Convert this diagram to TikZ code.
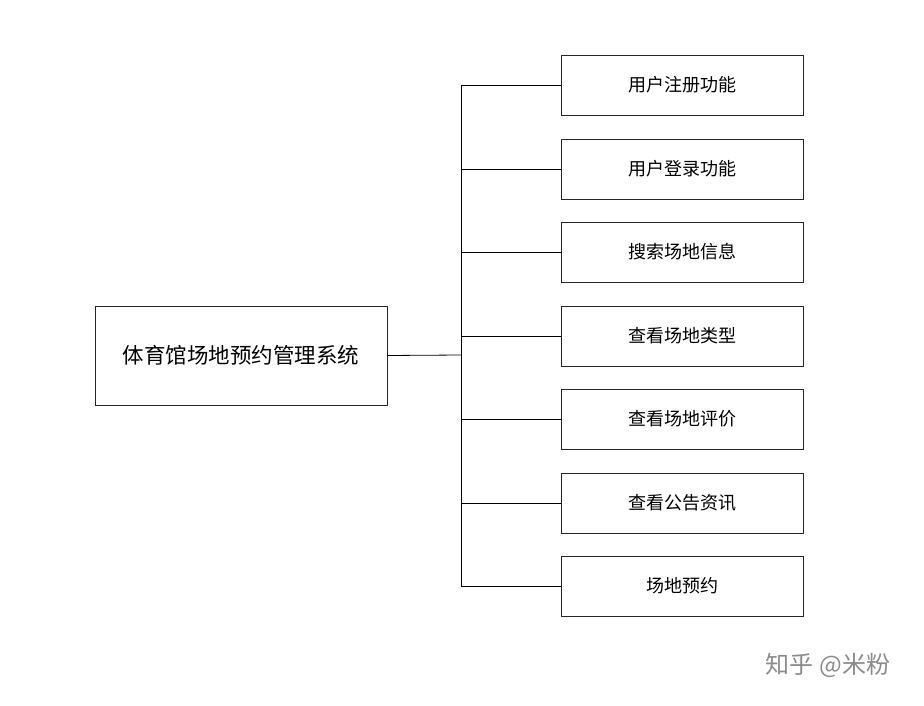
\documentclass[tikz,border=0pt]{standalone}
\usepackage{fontspec}
\setmainfont{Noto Sans CJK SC}
\begin{document}
\begin{tikzpicture}[x=1pt,y=-1pt,
  box/.style={draw=black!85,line width=0.8pt,fill=white,minimum width=242pt,minimum height=60pt,font=\fontsize{18}{20}\selectfont,inner sep=0pt},
  ln/.style={draw=black,line width=0.8pt}]
\useasboundingbox (0,0) rectangle (924,706);
\node[box,minimum width=292pt,minimum height=99pt,font=\fontsize{21.5}{24}\selectfont] (m) at (241,355.5) {体育馆场地预约管理系统};
\foreach \n/\y/\t in {a/85/用户注册功能,b/169/用户登录功能,c/252/搜索场地信息,d/336/查看场地类型,e/419/查看场地评价,f/503/查看公告资讯,g/586/场地预约}{
  \node[box] (\n) at (682,\y) {\t};
  \coordinate (t\n) at (461,\y);
  \draw[ln] (t\n) -- (\n.west);
}
\coordinate (j) at (461,355);
\draw[ln] (m.east) -- (j);
\draw[ln] (ta) -- (tg);
\node[text=black!45,font=\fontsize{24}{26}\selectfont] (w) at (828,665) {知乎 @米粉};
\end{tikzpicture}
\end{document}
